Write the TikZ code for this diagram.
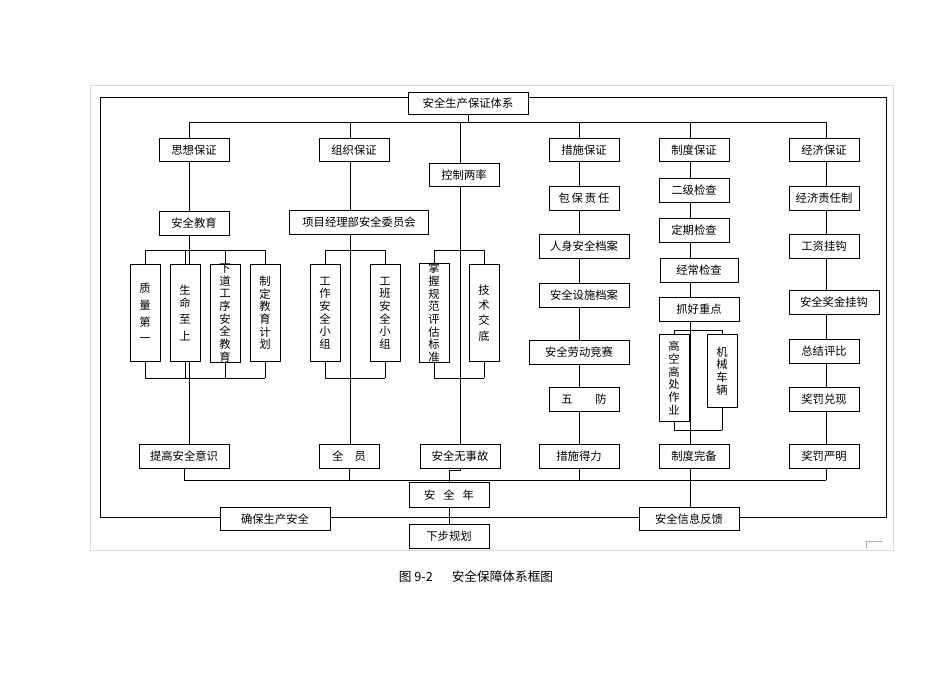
\documentclass[tikz,border=0pt]{standalone}
\usepackage{fontspec}
\setmainfont{Noto Sans CJK SC}
\begin{document}
\begin{tikzpicture}[x=0.75pt,y=-0.75pt,
  bx/.style={draw,fill=white,inner sep=0pt,font=\fontsize{8.5}{10}\selectfont},
  vt/.style={draw,fill=white,inner sep=0pt,align=center,font=\fontsize{8.5}{9.5}\selectfont},
  ln/.style={draw,line width=0.6pt}]
\useasboundingbox (0,0) rectangle (950,672);
\draw[gray!30] (90,85) rectangle (893,550);
\draw[gray!60] (866,548) -- (866,541) -- (883,541);
\draw[ln] (100,97) rectangle (886,517);
\newcommand\bx[6]{\node[bx,minimum width=#4*0.75pt,minimum height=#5*0.75pt] (#1) at (#2,#3) {#6};}
\newcommand\vb[6]{\node[vt,minimum width=#4*0.75pt,minimum height=#5*0.75pt] (#1) at (#2,#3) {#6};}
% connectors first
\coordinate (busL) at (189,122);
\coordinate (busR) at (826,122);
\draw[ln] (busL) -- (busR);
\draw[ln] (468,103) -- (468,122);
\foreach \x in {189,350,460,579,690,826} \draw[ln] (\x,122) -- (\x,150);
\draw[ln] (189,150) -- (189,456);
\draw[ln] (350,150) -- (350,456);
\draw[ln] (460,150) -- (460,456);
\draw[ln] (579,150) -- (579,456);
\draw[ln] (690,150) -- (690,519);
\draw[ln] (826,150) -- (826,480);
% left buses
\draw[ln] (145,250) -- (265,250);
\foreach \x in {145,185,225,265} \draw[ln] (\x,250) -- (\x,300);
\draw[ln] (145,378) -- (265,378);
\foreach \x in {145,185,225,265} \draw[ln] (\x,330) -- (\x,378);
\draw[ln] (325,250) -- (385,250); \draw[ln] (325,250)--(325,300); \draw[ln] (385,250)--(385,300);
\draw[ln] (325,378) -- (385,378); \draw[ln] (325,330)--(325,378); \draw[ln] (385,330)--(385,378);
\draw[ln] (434,250) -- (484,250); \draw[ln] (434,250)--(434,300); \draw[ln] (484,250)--(484,300);
\draw[ln] (434,378) -- (484,378); \draw[ln] (434,330)--(434,378); \draw[ln] (484,330)--(484,378);
\draw[ln] (674,330) -- (722,330); \draw[ln] (674,330)--(674,360); \draw[ln] (722,330)--(722,360);
\draw[ln] (674,430) -- (722,430); \draw[ln] (674,400)--(674,430); \draw[ln] (722,400)--(722,430);
% bottom
\draw[ln] (184,480) -- (826,480);
\foreach \x in {184,349,579,826} \draw[ln] (\x,456) -- (\x,480);
\draw[ln] (460,456) -- (460,470) -- (449,470) -- (449,536);
% nodes
\bx{top}{468}{103}{120}{22}{安全生产保证体系}
\bx{sx}{194}{150}{70}{23}{思想保证}
\bx{zz}{354}{150}{70}{23}{组织保证}
\bx{kz}{464}{175}{70}{23}{控制两率}
\bx{cs}{584}{150}{70}{23}{措施保证}
\bx{zd}{694}{150}{70}{23}{制度保证}
\bx{jj}{824}{150}{70}{23}{经济保证}
\bx{aqjy}{194}{223}{70}{24}{安全教育}
\bx{xmjl}{359}{222}{139}{24}{项目经理部安全委员会}
\bx{bb}{584}{198}{70}{24}{包\,保\,责\,任}
\bx{ej}{694}{190}{70}{24}{二级检查}
\bx{jjzr}{824}{198}{70}{24}{经济责任制}
\bx{dq}{694}{230}{70}{24}{定期检查}
\bx{gz}{824}{246}{70}{24}{工资挂钩}
\bx{rs}{584}{246}{90}{24}{人身安全档案}
\bx{jc}{699}{270}{78}{24}{经常检查}
\bx{ss}{584}{295}{90}{24}{安全设施档案}
\bx{zh}{699}{309}{80}{24}{抓好重点}
\bx{jq}{834}{302}{90}{24}{安全奖金挂钩}
\bx{ld}{579}{352}{100}{24}{安全劳动竞赛}
\bx{zj}{824}{351}{70}{24}{总结评比}
\bx{wf}{584}{399}{70}{24}{五\hspace{2em}防}
\bx{jf}{824}{399}{70}{24}{奖罚兑现}
\vb{v1}{145}{313}{30}{97}{质\\[3pt]量\\[3pt]第\\[3pt]一}
\vb{v2}{185}{313}{30}{97}{生\\命\\[3pt]至\\[3pt]上}
\vb{v3}{225}{313}{30}{97}{下\\道\\工\\序\\安\\全\\教\\育}
\vb{v4}{265}{313}{30}{97}{制\\定\\教\\育\\计\\划}
\vb{g1}{325}{313}{30}{97}{工\\作\\安\\全\\小\\组}
\vb{g2}{385}{313}{30}{97}{工\\班\\安\\全\\小\\组}
\vb{k1}{434}{313}{30}{97}{掌\\握\\规\\范\\评\\估\\标\\准}
\vb{k2}{484}{313}{30}{97}{技\\[2pt]术\\[2pt]交\\[2pt]底}
\vb{h1}{674}{378}{30}{87}{高\\空\\高\\处\\作\\业}
\vb{h2}{722}{371}{30}{73}{机\\械\\车\\辆}
\bx{tg}{184}{456}{90}{24}{提高安全意识}
\bx{qy}{349}{456}{60}{24}{全\hspace{1em}员}
\bx{wsg}{460}{456}{80}{24}{安全无事故}
\bx{csdl}{579}{456}{80}{24}{措施得力}
\bx{zdwb}{694}{456}{70}{24}{制度完备}
\bx{jfym}{824}{456}{70}{24}{奖罚严明}
\bx{aqn}{449}{495}{80}{25}{安\hspace{0.7em}全\hspace{0.7em}年}
\bx{qb}{275}{519}{110}{23}{确保生产安全}
\bx{xx}{689}{519}{100}{23}{安全信息反馈}
\bx{xb}{449}{536}{80}{24}{下步规划}
\node[font=\fontsize{9.5}{11}\selectfont] (cap) at (476,577) {图 9-2\hspace{1.5em}安全保障体系框图};
\end{tikzpicture}
\end{document}
